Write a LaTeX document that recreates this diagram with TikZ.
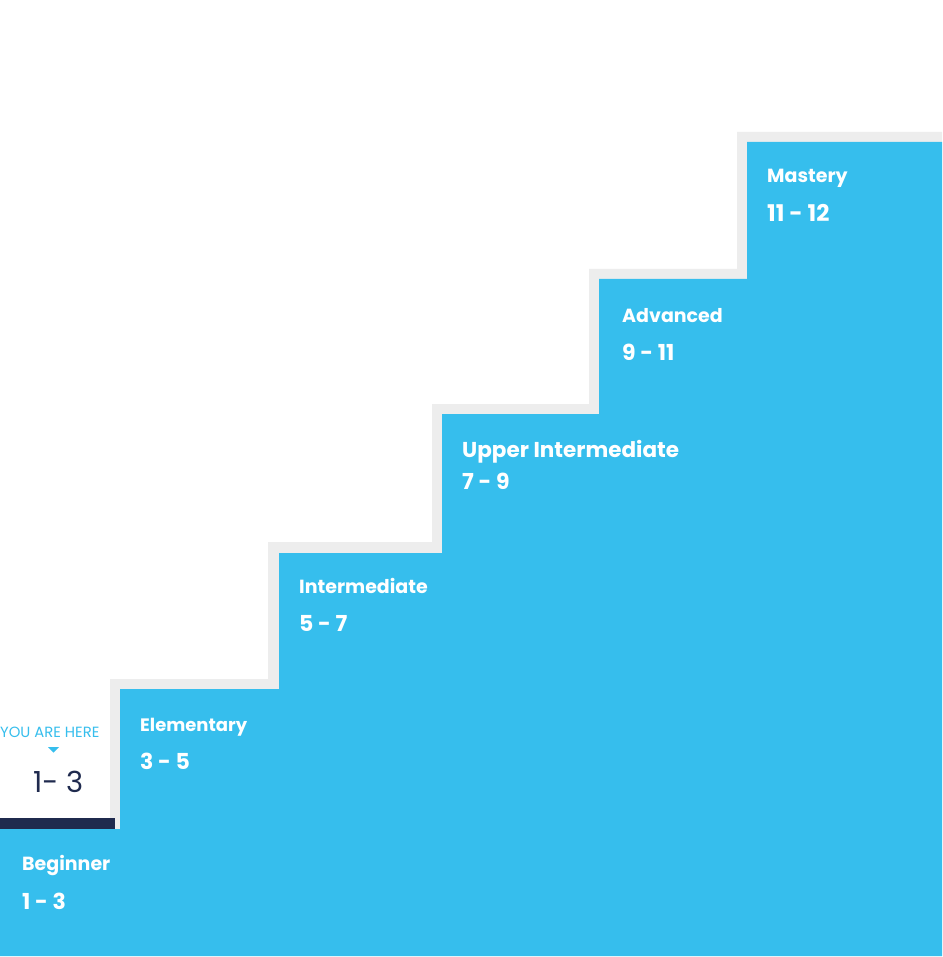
\documentclass[tikz,border=0pt]{standalone}
\usepackage{fontspec}
\setmainfont{Poppins}
\definecolor{stepblue}{HTML}{36BEED}
\definecolor{stepgray}{HTML}{EDEDED}
\definecolor{navy}{HTML}{1F2A4E}
\tikzset{
  lvl/.style={anchor=base west, inner sep=0pt, text=white, font=\fontsize{19}{19}\selectfont\bfseries},
  rng/.style={anchor=base west, inner sep=0pt, text=white, font=\fontsize{22}{22}\selectfont\bfseries},
}
\begin{document}
\begin{tikzpicture}[x=1pt,y=-1pt]
\useasboundingbox (0,0) rectangle (942,957);
\fill[white] (0,0) rectangle (942,957);
% gray border staircase
\fill[stepgray] (110,829) -- (110,679) -- (268,679) -- (268,542) -- (432,542) -- (432,404)
  -- (589,404) -- (589,269) -- (737,269) -- (737,132) -- (942,132) -- (942,956) -- (110,956) -- cycle;
% blue staircase
\fill[stepblue] (0,829) -- (120,829) -- (120,689) -- (279,689) -- (279,553) -- (442,553) -- (442,414)
  -- (599,414) -- (599,279) -- (747,279) -- (747,142) -- (942,142) -- (942,956) -- (0,956) -- cycle;
% current level bar
\fill[navy] (0,818) rectangle (115,829);
% labels
\node[lvl] (beg) at (22,870) {Beginner};
\node[rng] (begr) at (22,909) {1 - 3};
\node[lvl, font=\fontsize{18}{18}\selectfont\bfseries] (ele) at (140,731) {Elementary};
\node[rng] (eler) at (140,769) {3 - 5};
\node[lvl] (int) at (299,593) {Intermediate};
\node[rng] (intr) at (299,631) {5 - 7};
\node[lvl, font=\fontsize{21.5}{21.5}\selectfont\bfseries] (upp) at (462,457) {Upper Intermediate};
\node[rng] (uppr) at (462,489) {7 - 9};
\node[lvl] (adv) at (622,322) {Advanced};
\node[rng] (advr) at (622,360) {9 - 11};
\node[lvl] (mas) at (767,183) {Mastery};
\node[rng, font=\fontsize{23}{23}\selectfont\bfseries] (masr) at (767,222) {11 - 12};
% you are here
\node[anchor=base west, inner sep=0pt, text=stepblue, font=\fontsize{14.8}{14.8}\selectfont] (here) at (0,737) {YOU ARE HERE};
\fill[stepblue] (48,747) -- (59,747) -- (53.5,752.5) -- cycle;
\node[anchor=base west, inner sep=0pt, text=navy, font=\fontsize{29}{29}\selectfont] (cur) at (33,792) {1- 3};
\end{tikzpicture}
\end{document}
